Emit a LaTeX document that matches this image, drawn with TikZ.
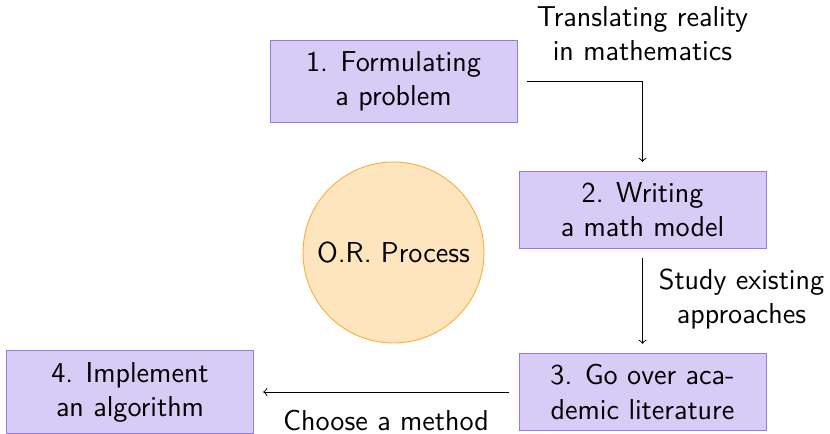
\documentclass[tikz,border=0pt]{standalone}
\usetikzlibrary{arrows}
\definecolor{boxfill}{RGB}{214,204,245}
\definecolor{boxdraw}{RGB}{150,120,230}
\definecolor{circfill}{RGB}{255,229,190}
\definecolor{circdraw}{RGB}{250,175,60}
\begin{document}
\begin{tikzpicture}[x=0.4343pt,y=-0.4343pt,
  every node/.style={font=\fontsize{12.5}{14.8}\selectfont\sffamily},
  stepbox/.style={draw=boxdraw,fill=boxfill,minimum width=107.3pt,align=center,inner xsep=4pt,inner ysep=4.85pt},
  hub/.style={circle,draw=circdraw,fill=circfill,minimum size=78.6pt,inner sep=0pt},
  lab/.style={align=center,inner sep=0pt},
  conn/.style={->,line width=0.4pt,shorten >=4pt,shorten <=4pt}]
\useasboundingbox (0,0) rectangle (830,433);
\node[stepbox] (n1) at (393.5,81) {1. Formulating\\a problem};
\node[stepbox] (n2) at (642.5,210) {2. Writing\\a math model};
\node[stepbox] (n3) at (642.5,392) {3. Go over aca-\\demic literature};
\node[stepbox] (n4) at (130,392) {4. Implement\\an algorithm};
\node[hub] (c) at (393.5,252.5) {O.R. Process};
\draw[conn] (n1.east) -| (n2.north);
\draw[conn] (n2.south) -- (n3.north);
\draw[conn] (n3.west) -- (n4.east);
\node[lab] (l1) at (642.5,34) {Translating reality\\in mathematics};
\node[lab] (l2) at (741.5,299) {Study existing\\approaches};
\node[lab,anchor=base] (l3) at (386,430) {Choose a method};
\end{tikzpicture}
\end{document}
